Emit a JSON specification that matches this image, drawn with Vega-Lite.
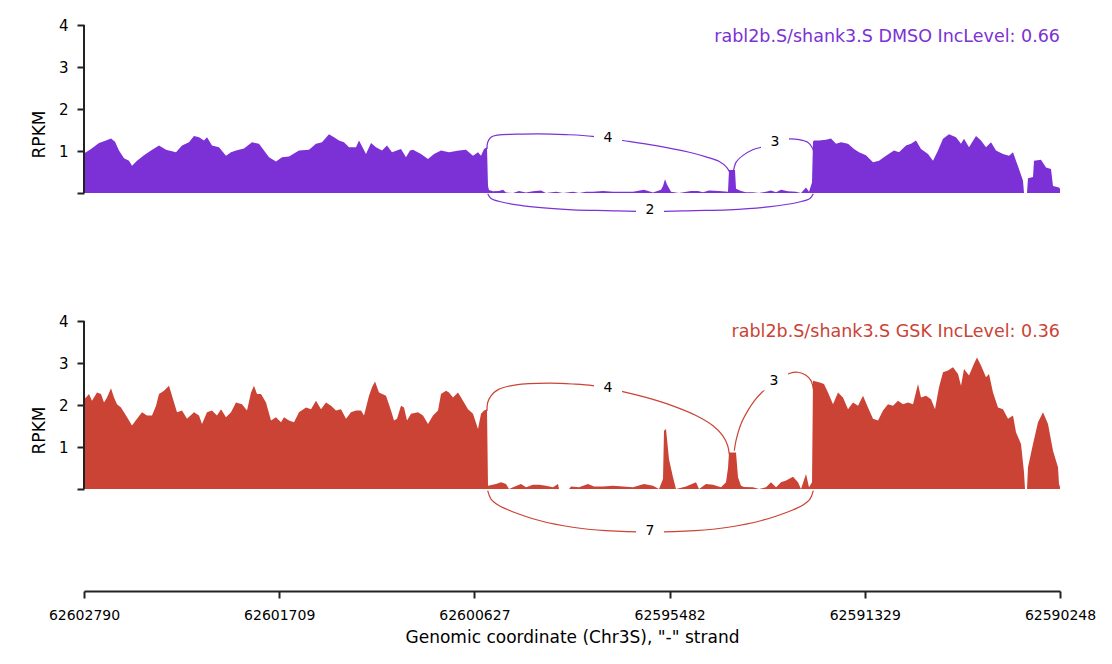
{
  "$schema": "https://vega.github.io/schema/vega-lite/v6.json",
  "autosize": {"type": "pad"},
  "padding": {"left": 30, "top": 18, "right": 5, "bottom": 5},
  "config": {
    "font": "DejaVu Sans",
    "view": {"stroke": null},
    "axis": {"grid": false}
  },
  "datasets": {
    "coverage": [
      {"track":"DMSO","pos":0,"rpkm":0.95},{"track":"DMSO","pos":2,"rpkm":0.97},{"track":"DMSO","pos":7,"rpkm":1.05},{"track":"DMSO","pos":15,"rpkm":1.19},{"track":"DMSO","pos":22,"rpkm":1.25},{"track":"DMSO","pos":27,"rpkm":1.3},{"track":"DMSO","pos":31,"rpkm":1.22},{"track":"DMSO","pos":35,"rpkm":1.01},{"track":"DMSO","pos":40,"rpkm":0.83},{"track":"DMSO","pos":45,"rpkm":0.77},{"track":"DMSO","pos":48,"rpkm":0.65},{"track":"DMSO","pos":53,"rpkm":0.77},{"track":"DMSO","pos":60,"rpkm":0.9},{"track":"DMSO","pos":67,"rpkm":1.01},{"track":"DMSO","pos":75,"rpkm":1.13},{"track":"DMSO","pos":82,"rpkm":1.03},{"track":"DMSO","pos":92,"rpkm":0.97},{"track":"DMSO","pos":98,"rpkm":1.13},{"track":"DMSO","pos":105,"rpkm":1.21},{"track":"DMSO","pos":110,"rpkm":1.36},{"track":"DMSO","pos":115,"rpkm":1.33},{"track":"DMSO","pos":120,"rpkm":1.25},{"track":"DMSO","pos":123,"rpkm":1.33},{"track":"DMSO","pos":128,"rpkm":1.13},{"track":"DMSO","pos":135,"rpkm":1.09},{"track":"DMSO","pos":142,"rpkm":0.89},{"track":"DMSO","pos":147,"rpkm":0.97},{"track":"DMSO","pos":152,"rpkm":1.01},{"track":"DMSO","pos":160,"rpkm":1.06},{"track":"DMSO","pos":168,"rpkm":1.21},{"track":"DMSO","pos":175,"rpkm":1.17},{"track":"DMSO","pos":180,"rpkm":1.01},{"track":"DMSO","pos":185,"rpkm":0.85},{"track":"DMSO","pos":192,"rpkm":0.75},{"track":"DMSO","pos":198,"rpkm":0.85},{"track":"DMSO","pos":205,"rpkm":0.87},{"track":"DMSO","pos":215,"rpkm":1.01},{"track":"DMSO","pos":225,"rpkm":1.03},{"track":"DMSO","pos":232,"rpkm":1.17},{"track":"DMSO","pos":238,"rpkm":1.21},{"track":"DMSO","pos":245,"rpkm":1.4},{"track":"DMSO","pos":250,"rpkm":1.33},{"track":"DMSO","pos":255,"rpkm":1.25},{"track":"DMSO","pos":260,"rpkm":1.21},{"track":"DMSO","pos":265,"rpkm":1.09},{"track":"DMSO","pos":272,"rpkm":1.09},{"track":"DMSO","pos":275,"rpkm":1.25},{"track":"DMSO","pos":282,"rpkm":0.93},{"track":"DMSO","pos":287,"rpkm":1.19},{"track":"DMSO","pos":292,"rpkm":1.09},{"track":"DMSO","pos":298,"rpkm":1.01},{"track":"DMSO","pos":303,"rpkm":1.13},{"track":"DMSO","pos":308,"rpkm":0.97},{"track":"DMSO","pos":317,"rpkm":1.05},{"track":"DMSO","pos":322,"rpkm":0.85},{"track":"DMSO","pos":326,"rpkm":1.01},{"track":"DMSO","pos":329,"rpkm":1.03},{"track":"DMSO","pos":337,"rpkm":0.93},{"track":"DMSO","pos":344,"rpkm":0.81},{"track":"DMSO","pos":350,"rpkm":0.93},{"track":"DMSO","pos":357,"rpkm":1.01},{"track":"DMSO","pos":365,"rpkm":0.97},{"track":"DMSO","pos":375,"rpkm":1.01},{"track":"DMSO","pos":382,"rpkm":1.03},{"track":"DMSO","pos":389,"rpkm":0.89},{"track":"DMSO","pos":394,"rpkm":0.97},{"track":"DMSO","pos":397,"rpkm":0.89},{"track":"DMSO","pos":400,"rpkm":1.05},{"track":"DMSO","pos":403,"rpkm":1.09},{"track":"DMSO","pos":404,"rpkm":0.17},{"track":"DMSO","pos":405,"rpkm":0.07},{"track":"DMSO","pos":409,"rpkm":0.04},{"track":"DMSO","pos":415,"rpkm":0.05},{"track":"DMSO","pos":419,"rpkm":0.08},{"track":"DMSO","pos":422,"rpkm":0.01},{"track":"DMSO","pos":429,"rpkm":0},{"track":"DMSO","pos":435,"rpkm":0.05},{"track":"DMSO","pos":442,"rpkm":0.01},{"track":"DMSO","pos":449,"rpkm":0.04},{"track":"DMSO","pos":457,"rpkm":0.06},{"track":"DMSO","pos":462,"rpkm":0},{"track":"DMSO","pos":472,"rpkm":0.03},{"track":"DMSO","pos":479,"rpkm":0},{"track":"DMSO","pos":489,"rpkm":0.03},{"track":"DMSO","pos":495,"rpkm":0},{"track":"DMSO","pos":502,"rpkm":0.03},{"track":"DMSO","pos":509,"rpkm":0.03},{"track":"DMSO","pos":519,"rpkm":0.05},{"track":"DMSO","pos":529,"rpkm":0.03},{"track":"DMSO","pos":535,"rpkm":0.03},{"track":"DMSO","pos":549,"rpkm":0.03},{"track":"DMSO","pos":560,"rpkm":0.08},{"track":"DMSO","pos":569,"rpkm":0.01},{"track":"DMSO","pos":577,"rpkm":0.08},{"track":"DMSO","pos":579,"rpkm":0.17},{"track":"DMSO","pos":581,"rpkm":0.33},{"track":"DMSO","pos":583,"rpkm":0.2},{"track":"DMSO","pos":587,"rpkm":0.03},{"track":"DMSO","pos":595,"rpkm":0},{"track":"DMSO","pos":607,"rpkm":0.05},{"track":"DMSO","pos":614,"rpkm":0.05},{"track":"DMSO","pos":619,"rpkm":0.02},{"track":"DMSO","pos":625,"rpkm":0.06},{"track":"DMSO","pos":635,"rpkm":0.05},{"track":"DMSO","pos":644,"rpkm":0.03},{"track":"DMSO","pos":645,"rpkm":0.55},{"track":"DMSO","pos":651,"rpkm":0.55},{"track":"DMSO","pos":652,"rpkm":0.1},{"track":"DMSO","pos":657,"rpkm":0.05},{"track":"DMSO","pos":662,"rpkm":0.02},{"track":"DMSO","pos":669,"rpkm":0.02},{"track":"DMSO","pos":675,"rpkm":0},{"track":"DMSO","pos":682,"rpkm":0.03},{"track":"DMSO","pos":687,"rpkm":0.06},{"track":"DMSO","pos":692,"rpkm":0.02},{"track":"DMSO","pos":697,"rpkm":0.08},{"track":"DMSO","pos":704,"rpkm":0.04},{"track":"DMSO","pos":712,"rpkm":0.03},{"track":"DMSO","pos":717,"rpkm":0},{"track":"DMSO","pos":722,"rpkm":0.13},{"track":"DMSO","pos":725,"rpkm":0.03},{"track":"DMSO","pos":728,"rpkm":0.25},{"track":"DMSO","pos":729,"rpkm":1.22},{"track":"DMSO","pos":730,"rpkm":1.25},{"track":"DMSO","pos":735,"rpkm":1.25},{"track":"DMSO","pos":742,"rpkm":1.27},{"track":"DMSO","pos":747,"rpkm":1.3},{"track":"DMSO","pos":752,"rpkm":1.17},{"track":"DMSO","pos":757,"rpkm":1.21},{"track":"DMSO","pos":764,"rpkm":1.17},{"track":"DMSO","pos":770,"rpkm":1.05},{"track":"DMSO","pos":775,"rpkm":0.97},{"track":"DMSO","pos":782,"rpkm":0.9},{"track":"DMSO","pos":789,"rpkm":0.73},{"track":"DMSO","pos":795,"rpkm":0.77},{"track":"DMSO","pos":802,"rpkm":0.89},{"track":"DMSO","pos":810,"rpkm":1.01},{"track":"DMSO","pos":815,"rpkm":0.97},{"track":"DMSO","pos":822,"rpkm":1.13},{"track":"DMSO","pos":827,"rpkm":1.17},{"track":"DMSO","pos":832,"rpkm":1.25},{"track":"DMSO","pos":837,"rpkm":1.05},{"track":"DMSO","pos":844,"rpkm":0.93},{"track":"DMSO","pos":849,"rpkm":0.77},{"track":"DMSO","pos":854,"rpkm":1.01},{"track":"DMSO","pos":859,"rpkm":1.29},{"track":"DMSO","pos":865,"rpkm":1.4},{"track":"DMSO","pos":872,"rpkm":1.33},{"track":"DMSO","pos":877,"rpkm":1.17},{"track":"DMSO","pos":880,"rpkm":1.29},{"track":"DMSO","pos":885,"rpkm":1.09},{"track":"DMSO","pos":892,"rpkm":1.36},{"track":"DMSO","pos":897,"rpkm":1.25},{"track":"DMSO","pos":902,"rpkm":1.09},{"track":"DMSO","pos":907,"rpkm":1.21},{"track":"DMSO","pos":912,"rpkm":1.01},{"track":"DMSO","pos":919,"rpkm":0.93},{"track":"DMSO","pos":925,"rpkm":0.89},{"track":"DMSO","pos":929,"rpkm":0.97},{"track":"DMSO","pos":932,"rpkm":0.77},{"track":"DMSO","pos":935,"rpkm":0.57},{"track":"DMSO","pos":939,"rpkm":0.29},{"track":"DMSO","pos":940,"rpkm":0},{"track":"DMSO","pos":943,"rpkm":0},{"track":"DMSO","pos":944,"rpkm":0.35},{"track":"DMSO","pos":949,"rpkm":0.38},{"track":"DMSO","pos":950,"rpkm":0.77},{"track":"DMSO","pos":957,"rpkm":0.79},{"track":"DMSO","pos":962,"rpkm":0.61},{"track":"DMSO","pos":967,"rpkm":0.57},{"track":"DMSO","pos":969,"rpkm":0.17},{"track":"DMSO","pos":975,"rpkm":0.13},{"track":"DMSO","pos":976,"rpkm":0.1},
      {"track":"GSK","pos":0,"rpkm":2.15},{"track":"GSK","pos":2,"rpkm":2.18},{"track":"GSK","pos":5,"rpkm":2.26},{"track":"GSK","pos":8,"rpkm":2.1},{"track":"GSK","pos":13,"rpkm":2.3},{"track":"GSK","pos":17,"rpkm":2.26},{"track":"GSK","pos":20,"rpkm":2.06},{"track":"GSK","pos":23,"rpkm":2.18},{"track":"GSK","pos":27,"rpkm":2.4},{"track":"GSK","pos":30,"rpkm":2.18},{"track":"GSK","pos":33,"rpkm":2.02},{"track":"GSK","pos":37,"rpkm":1.94},{"track":"GSK","pos":42,"rpkm":1.75},{"track":"GSK","pos":48,"rpkm":1.51},{"track":"GSK","pos":53,"rpkm":1.67},{"track":"GSK","pos":58,"rpkm":1.83},{"track":"GSK","pos":63,"rpkm":1.75},{"track":"GSK","pos":68,"rpkm":1.75},{"track":"GSK","pos":72,"rpkm":1.98},{"track":"GSK","pos":75,"rpkm":2.26},{"track":"GSK","pos":80,"rpkm":2.34},{"track":"GSK","pos":85,"rpkm":2.46},{"track":"GSK","pos":88,"rpkm":2.22},{"track":"GSK","pos":93,"rpkm":1.83},{"track":"GSK","pos":98,"rpkm":1.87},{"track":"GSK","pos":103,"rpkm":1.67},{"track":"GSK","pos":110,"rpkm":1.83},{"track":"GSK","pos":115,"rpkm":1.75},{"track":"GSK","pos":118,"rpkm":1.55},{"track":"GSK","pos":123,"rpkm":1.83},{"track":"GSK","pos":128,"rpkm":1.87},{"track":"GSK","pos":133,"rpkm":1.75},{"track":"GSK","pos":137,"rpkm":1.9},{"track":"GSK","pos":142,"rpkm":1.71},{"track":"GSK","pos":147,"rpkm":1.83},{"track":"GSK","pos":152,"rpkm":2.06},{"track":"GSK","pos":158,"rpkm":2.02},{"track":"GSK","pos":163,"rpkm":1.87},{"track":"GSK","pos":167,"rpkm":2.3},{"track":"GSK","pos":170,"rpkm":2.46},{"track":"GSK","pos":173,"rpkm":2.26},{"track":"GSK","pos":177,"rpkm":2.26},{"track":"GSK","pos":182,"rpkm":2.06},{"track":"GSK","pos":187,"rpkm":1.63},{"track":"GSK","pos":192,"rpkm":1.71},{"track":"GSK","pos":197,"rpkm":1.59},{"track":"GSK","pos":200,"rpkm":1.71},{"track":"GSK","pos":205,"rpkm":1.63},{"track":"GSK","pos":210,"rpkm":1.59},{"track":"GSK","pos":215,"rpkm":1.83},{"track":"GSK","pos":222,"rpkm":1.94},{"track":"GSK","pos":227,"rpkm":1.9},{"track":"GSK","pos":232,"rpkm":2.1},{"track":"GSK","pos":237,"rpkm":1.9},{"track":"GSK","pos":242,"rpkm":2.06},{"track":"GSK","pos":247,"rpkm":1.98},{"track":"GSK","pos":252,"rpkm":1.87},{"track":"GSK","pos":257,"rpkm":1.9},{"track":"GSK","pos":262,"rpkm":1.67},{"track":"GSK","pos":267,"rpkm":1.83},{"track":"GSK","pos":272,"rpkm":1.87},{"track":"GSK","pos":277,"rpkm":1.87},{"track":"GSK","pos":280,"rpkm":1.75},{"track":"GSK","pos":285,"rpkm":2.22},{"track":"GSK","pos":288,"rpkm":2.42},{"track":"GSK","pos":291,"rpkm":2.56},{"track":"GSK","pos":295,"rpkm":2.3},{"track":"GSK","pos":302,"rpkm":2.22},{"track":"GSK","pos":307,"rpkm":1.87},{"track":"GSK","pos":310,"rpkm":1.63},{"track":"GSK","pos":313,"rpkm":1.67},{"track":"GSK","pos":317,"rpkm":1.98},{"track":"GSK","pos":320,"rpkm":1.94},{"track":"GSK","pos":323,"rpkm":1.63},{"track":"GSK","pos":327,"rpkm":1.79},{"track":"GSK","pos":334,"rpkm":1.83},{"track":"GSK","pos":339,"rpkm":1.75},{"track":"GSK","pos":344,"rpkm":1.55},{"track":"GSK","pos":349,"rpkm":1.75},{"track":"GSK","pos":354,"rpkm":1.87},{"track":"GSK","pos":357,"rpkm":2.26},{"track":"GSK","pos":362,"rpkm":2.34},{"track":"GSK","pos":365,"rpkm":2.3},{"track":"GSK","pos":369,"rpkm":2.18},{"track":"GSK","pos":374,"rpkm":2.3},{"track":"GSK","pos":379,"rpkm":2.1},{"track":"GSK","pos":384,"rpkm":1.9},{"track":"GSK","pos":389,"rpkm":1.79},{"track":"GSK","pos":394,"rpkm":1.43},{"track":"GSK","pos":397,"rpkm":1.79},{"track":"GSK","pos":400,"rpkm":1.87},{"track":"GSK","pos":403,"rpkm":1.9},{"track":"GSK","pos":404,"rpkm":0.08},{"track":"GSK","pos":412,"rpkm":0.12},{"track":"GSK","pos":417,"rpkm":0.16},{"track":"GSK","pos":422,"rpkm":0.12},{"track":"GSK","pos":425,"rpkm":0},{"track":"GSK","pos":429,"rpkm":0.04},{"track":"GSK","pos":437,"rpkm":0.12},{"track":"GSK","pos":442,"rpkm":0.04},{"track":"GSK","pos":449,"rpkm":0.1},{"track":"GSK","pos":455,"rpkm":0.1},{"track":"GSK","pos":462,"rpkm":0.08},{"track":"GSK","pos":469,"rpkm":0.04},{"track":"GSK","pos":474,"rpkm":0.12},{"track":"GSK","pos":475,"rpkm":0},{"track":"GSK","pos":485,"rpkm":0},{"track":"GSK","pos":487,"rpkm":0.06},{"track":"GSK","pos":495,"rpkm":0.04},{"track":"GSK","pos":504,"rpkm":0.12},{"track":"GSK","pos":510,"rpkm":0.06},{"track":"GSK","pos":519,"rpkm":0.06},{"track":"GSK","pos":529,"rpkm":0.08},{"track":"GSK","pos":539,"rpkm":0.06},{"track":"GSK","pos":549,"rpkm":0.04},{"track":"GSK","pos":560,"rpkm":0.12},{"track":"GSK","pos":569,"rpkm":0.08},{"track":"GSK","pos":575,"rpkm":0},{"track":"GSK","pos":579,"rpkm":0.24},{"track":"GSK","pos":580,"rpkm":1.39},{"track":"GSK","pos":582,"rpkm":1.43},{"track":"GSK","pos":585,"rpkm":0.71},{"track":"GSK","pos":589,"rpkm":0.28},{"track":"GSK","pos":592,"rpkm":0},{"track":"GSK","pos":602,"rpkm":0.06},{"track":"GSK","pos":612,"rpkm":0.16},{"track":"GSK","pos":615,"rpkm":0},{"track":"GSK","pos":622,"rpkm":0.12},{"track":"GSK","pos":629,"rpkm":0.1},{"track":"GSK","pos":637,"rpkm":0.04},{"track":"GSK","pos":642,"rpkm":0.16},{"track":"GSK","pos":644,"rpkm":0.5},{"track":"GSK","pos":645,"rpkm":0.87},{"track":"GSK","pos":652,"rpkm":0.87},{"track":"GSK","pos":654,"rpkm":0.28},{"track":"GSK","pos":657,"rpkm":0.08},{"track":"GSK","pos":660,"rpkm":0.05},{"track":"GSK","pos":669,"rpkm":0.04},{"track":"GSK","pos":675,"rpkm":0},{"track":"GSK","pos":682,"rpkm":0.04},{"track":"GSK","pos":687,"rpkm":0.16},{"track":"GSK","pos":692,"rpkm":0.04},{"track":"GSK","pos":697,"rpkm":0.16},{"track":"GSK","pos":702,"rpkm":0.2},{"track":"GSK","pos":709,"rpkm":0.29},{"track":"GSK","pos":714,"rpkm":0.16},{"track":"GSK","pos":717,"rpkm":0},{"track":"GSK","pos":722,"rpkm":0.36},{"track":"GSK","pos":725,"rpkm":0.04},{"track":"GSK","pos":728,"rpkm":0.16},{"track":"GSK","pos":729,"rpkm":2.58},{"track":"GSK","pos":735,"rpkm":2.54},{"track":"GSK","pos":740,"rpkm":2.5},{"track":"GSK","pos":744,"rpkm":2.3},{"track":"GSK","pos":749,"rpkm":2.02},{"track":"GSK","pos":754,"rpkm":2.3},{"track":"GSK","pos":759,"rpkm":2.18},{"track":"GSK","pos":764,"rpkm":1.9},{"track":"GSK","pos":769,"rpkm":2.06},{"track":"GSK","pos":774,"rpkm":1.98},{"track":"GSK","pos":779,"rpkm":2.22},{"track":"GSK","pos":784,"rpkm":1.94},{"track":"GSK","pos":789,"rpkm":1.67},{"track":"GSK","pos":794,"rpkm":1.63},{"track":"GSK","pos":799,"rpkm":1.87},{"track":"GSK","pos":804,"rpkm":2.02},{"track":"GSK","pos":809,"rpkm":1.98},{"track":"GSK","pos":814,"rpkm":2.1},{"track":"GSK","pos":819,"rpkm":2.02},{"track":"GSK","pos":824,"rpkm":2.06},{"track":"GSK","pos":829,"rpkm":2.02},{"track":"GSK","pos":834,"rpkm":2.5},{"track":"GSK","pos":837,"rpkm":2.18},{"track":"GSK","pos":842,"rpkm":2.22},{"track":"GSK","pos":847,"rpkm":2.14},{"track":"GSK","pos":851,"rpkm":1.9},{"track":"GSK","pos":855,"rpkm":2.42},{"track":"GSK","pos":859,"rpkm":2.78},{"track":"GSK","pos":864,"rpkm":2.82},{"track":"GSK","pos":869,"rpkm":2.9},{"track":"GSK","pos":874,"rpkm":2.74},{"track":"GSK","pos":877,"rpkm":2.46},{"track":"GSK","pos":880,"rpkm":2.86},{"track":"GSK","pos":885,"rpkm":2.7},{"track":"GSK","pos":890,"rpkm":2.98},{"track":"GSK","pos":893,"rpkm":3.13},{"track":"GSK","pos":897,"rpkm":2.94},{"track":"GSK","pos":902,"rpkm":2.66},{"track":"GSK","pos":905,"rpkm":2.74},{"track":"GSK","pos":909,"rpkm":2.3},{"track":"GSK","pos":914,"rpkm":1.94},{"track":"GSK","pos":919,"rpkm":1.9},{"track":"GSK","pos":924,"rpkm":1.67},{"track":"GSK","pos":929,"rpkm":1.75},{"track":"GSK","pos":932,"rpkm":1.35},{"track":"GSK","pos":937,"rpkm":1.07},{"track":"GSK","pos":940,"rpkm":0.4},{"track":"GSK","pos":941,"rpkm":0},{"track":"GSK","pos":943,"rpkm":0},{"track":"GSK","pos":944,"rpkm":0.52},{"track":"GSK","pos":949,"rpkm":1.07},{"track":"GSK","pos":954,"rpkm":1.59},{"track":"GSK","pos":959,"rpkm":1.83},{"track":"GSK","pos":964,"rpkm":1.55},{"track":"GSK","pos":969,"rpkm":0.91},{"track":"GSK","pos":974,"rpkm":0.52},{"track":"GSK","pos":975,"rpkm":0.12},{"track":"GSK","pos":976,"rpkm":0.05}
    ],
    "arcs": [
      {"track":"DMSO","junction":"a","seq":1,"pos":403,"rpkm":1.05},{"track":"DMSO","junction":"a","seq":2,"pos":403.7,"rpkm":1.21},{"track":"DMSO","junction":"a","seq":3,"pos":407,"rpkm":1.33},{"track":"DMSO","junction":"a","seq":4,"pos":413.7,"rpkm":1.38},{"track":"DMSO","junction":"a","seq":5,"pos":432,"rpkm":1.4},{"track":"DMSO","junction":"a","seq":6,"pos":455.3,"rpkm":1.41},{"track":"DMSO","junction":"a","seq":7,"pos":482,"rpkm":1.39},{"track":"DMSO","junction":"a","seq":8,"pos":508.7,"rpkm":1.35},{"track":"DMSO","junction":"a","seq":9,"pos":538.7,"rpkm":1.25},{"track":"DMSO","junction":"a","seq":10,"pos":572,"rpkm":1.13},{"track":"DMSO","junction":"a","seq":11,"pos":605.3,"rpkm":0.97},{"track":"DMSO","junction":"a","seq":12,"pos":622,"rpkm":0.86},{"track":"DMSO","junction":"a","seq":13,"pos":635.3,"rpkm":0.75},{"track":"DMSO","junction":"a","seq":14,"pos":642.7,"rpkm":0.61},{"track":"DMSO","junction":"a","seq":15,"pos":645.3,"rpkm":0.51},
      {"track":"DMSO","junction":"b","seq":1,"pos":649.3,"rpkm":0.49},{"track":"DMSO","junction":"b","seq":2,"pos":652,"rpkm":0.73},{"track":"DMSO","junction":"b","seq":3,"pos":658.7,"rpkm":0.89},{"track":"DMSO","junction":"b","seq":4,"pos":668.7,"rpkm":1.03},{"track":"DMSO","junction":"b","seq":5,"pos":677,"rpkm":1.09},{"track":"DMSO","junction":"b","seq":6,"pos":687,"rpkm":1.19},{"track":"DMSO","junction":"b","seq":7,"pos":697,"rpkm":1.26},{"track":"DMSO","junction":"b","seq":8,"pos":705.3,"rpkm":1.29},{"track":"DMSO","junction":"b","seq":9,"pos":715.3,"rpkm":1.27},{"track":"DMSO","junction":"b","seq":10,"pos":723.7,"rpkm":1.21},{"track":"DMSO","junction":"b","seq":11,"pos":728,"rpkm":1.09},{"track":"DMSO","junction":"b","seq":12,"pos":730,"rpkm":0.97},
      {"track":"DMSO","junction":"c","seq":1,"pos":403.7,"rpkm":-0.02},{"track":"DMSO","junction":"c","seq":2,"pos":407,"rpkm":-0.13},{"track":"DMSO","junction":"c","seq":3,"pos":418.7,"rpkm":-0.22},{"track":"DMSO","junction":"c","seq":4,"pos":448.7,"rpkm":-0.33},{"track":"DMSO","junction":"c","seq":5,"pos":488.7,"rpkm":-0.4},{"track":"DMSO","junction":"c","seq":6,"pos":522,"rpkm":-0.42},{"track":"DMSO","junction":"c","seq":7,"pos":566.5,"rpkm":-0.44},{"track":"DMSO","junction":"c","seq":8,"pos":611,"rpkm":-0.42},{"track":"DMSO","junction":"c","seq":9,"pos":644.3,"rpkm":-0.4},{"track":"DMSO","junction":"c","seq":10,"pos":684.3,"rpkm":-0.33},{"track":"DMSO","junction":"c","seq":11,"pos":714.3,"rpkm":-0.22},{"track":"DMSO","junction":"c","seq":12,"pos":726,"rpkm":-0.13},{"track":"DMSO","junction":"c","seq":13,"pos":729.3,"rpkm":-0.02},
      {"track":"GSK","junction":"a","seq":1,"pos":403,"rpkm":1.86},{"track":"GSK","junction":"a","seq":2,"pos":403.7,"rpkm":2.06},{"track":"GSK","junction":"a","seq":3,"pos":407,"rpkm":2.22},{"track":"GSK","junction":"a","seq":4,"pos":413.7,"rpkm":2.36},{"track":"GSK","junction":"a","seq":5,"pos":432,"rpkm":2.48},{"track":"GSK","junction":"a","seq":6,"pos":465.3,"rpkm":2.52},{"track":"GSK","junction":"a","seq":7,"pos":488.7,"rpkm":2.5},{"track":"GSK","junction":"a","seq":8,"pos":508.7,"rpkm":2.46},{"track":"GSK","junction":"a","seq":9,"pos":538.7,"rpkm":2.32},{"track":"GSK","junction":"a","seq":10,"pos":562,"rpkm":2.18},{"track":"GSK","junction":"a","seq":11,"pos":588.7,"rpkm":1.98},{"track":"GSK","junction":"a","seq":12,"pos":612,"rpkm":1.75},{"track":"GSK","junction":"a","seq":13,"pos":628.7,"rpkm":1.51},{"track":"GSK","junction":"a","seq":14,"pos":638.7,"rpkm":1.27},{"track":"GSK","junction":"a","seq":15,"pos":643.7,"rpkm":1.03},{"track":"GSK","junction":"a","seq":16,"pos":645.3,"rpkm":0.83},
      {"track":"GSK","junction":"b","seq":1,"pos":650.3,"rpkm":0.91},{"track":"GSK","junction":"b","seq":2,"pos":652,"rpkm":1.15},{"track":"GSK","junction":"b","seq":3,"pos":657,"rpkm":1.55},{"track":"GSK","junction":"b","seq":4,"pos":663.7,"rpkm":1.86},{"track":"GSK","junction":"b","seq":5,"pos":670.3,"rpkm":2.1},{"track":"GSK","junction":"b","seq":6,"pos":677,"rpkm":2.28},{"track":"GSK","junction":"b","seq":7,"pos":687,"rpkm":2.48},{"track":"GSK","junction":"b","seq":8,"pos":697,"rpkm":2.64},{"track":"GSK","junction":"b","seq":9,"pos":705.3,"rpkm":2.75},{"track":"GSK","junction":"b","seq":10,"pos":713.7,"rpkm":2.78},{"track":"GSK","junction":"b","seq":11,"pos":722,"rpkm":2.71},{"track":"GSK","junction":"b","seq":12,"pos":727,"rpkm":2.58},{"track":"GSK","junction":"b","seq":13,"pos":729.7,"rpkm":2.34},{"track":"GSK","junction":"b","seq":14,"pos":730.3,"rpkm":2.18},
      {"track":"GSK","junction":"c","seq":1,"pos":403.7,"rpkm":-0.04},{"track":"GSK","junction":"c","seq":2,"pos":407,"rpkm":-0.24},{"track":"GSK","junction":"c","seq":3,"pos":415.3,"rpkm":-0.4},{"track":"GSK","junction":"c","seq":4,"pos":428.7,"rpkm":-0.54},{"track":"GSK","junction":"c","seq":5,"pos":455.3,"rpkm":-0.75},{"track":"GSK","junction":"c","seq":6,"pos":488.7,"rpkm":-0.91},{"track":"GSK","junction":"c","seq":7,"pos":522,"rpkm":-0.99},{"track":"GSK","junction":"c","seq":8,"pos":566.5,"rpkm":-1.02},{"track":"GSK","junction":"c","seq":9,"pos":611,"rpkm":-0.99},{"track":"GSK","junction":"c","seq":10,"pos":644.3,"rpkm":-0.91},{"track":"GSK","junction":"c","seq":11,"pos":677.7,"rpkm":-0.75},{"track":"GSK","junction":"c","seq":12,"pos":704.3,"rpkm":-0.54},{"track":"GSK","junction":"c","seq":13,"pos":717.7,"rpkm":-0.4},{"track":"GSK","junction":"c","seq":14,"pos":726,"rpkm":-0.24},{"track":"GSK","junction":"c","seq":15,"pos":729.3,"rpkm":-0.04}
    ],
    "junction_reads": [
      {"track":"DMSO","reads":"4","pos":524,"rpkm":1.31},
      {"track":"DMSO","reads":"3","pos":691,"rpkm":1.22},
      {"track":"DMSO","reads":"2","pos":566,"rpkm":-0.4},
      {"track":"GSK","reads":"4","pos":524,"rpkm":2.4},
      {"track":"GSK","reads":"3","pos":690,"rpkm":2.58},
      {"track":"GSK","reads":"7","pos":566,"rpkm":-0.99}
    ],
    "samples": [
      {"track":"DMSO","label":"rabl2b.S/shank3.S DMSO IncLevel: 0.66"},
      {"track":"GSK","label":"rabl2b.S/shank3.S GSK IncLevel: 0.36"}
    ]
  },
  "spacing": 78,
  "bounds": "flush",
  "vconcat": [
    {
      "width": 976,
      "height": 218,
      "layer": [
        {"data": {"name": "coverage"}, "transform": [{"filter": "datum.track === 'DMSO'"}],
          "mark": {"type": "area", "color": "#7b31d5", "opacity": 1},
          "encoding": {
            "x": {"field": "pos", "type": "quantitative", "scale": {"domain": [0, 976], "nice": false, "zero": false}, "axis": null},
            "y": {"field": "rpkm", "type": "quantitative", "title": "RPKM", "scale": {"domain": [-1.19, 4], "nice": false, "zero": false},
              "axis": {"values": [0, 1, 2, 3, 4], "domain": false, "tickSize": 7, "tickWidth": 2, "tickColor": "#222222", "labelExpr": "datum.value === 0 ? '' : datum.label", "labelFontSize": 15, "labelColor": "#000000", "labelPadding": 9, "titleFontSize": 17, "titleFontWeight": "normal", "titleColor": "#000000", "titlePadding": 10}},
            "y2": {"datum": 0}
          }},
        {"data": {"values": [{}]}, "mark": {"type": "rule", "color": "#222222", "strokeWidth": 2},
          "encoding": {"x": {"datum": 0, "type": "quantitative", "axis": null}, "y": {"datum": 0, "type": "quantitative", "title": "RPKM"}, "y2": {"datum": 4}}},
        {"data": {"name": "arcs"}, "transform": [{"filter": "datum.track === 'DMSO'"}],
          "mark": {"type": "line", "color": "#7b31d5", "strokeWidth": 1.2, "interpolate": "catmull-rom"},
          "encoding": {"x": {"field": "pos", "type": "quantitative", "axis": null}, "y": {"field": "rpkm", "type": "quantitative", "title": "RPKM"}, "detail": {"field": "junction"}, "order": {"field": "seq"}}},
        {"data": {"name": "junction_reads"}, "transform": [{"filter": "datum.track === 'DMSO'"}],
          "mark": {"type": "point", "shape": "M-1,-0.7L1,-0.7L1,0.7L-1,0.7Z", "filled": true, "color": "#ffffff", "opacity": 1, "size": 784, "strokeWidth": 0},
          "encoding": {"x": {"field": "pos", "type": "quantitative", "axis": null}, "y": {"field": "rpkm", "type": "quantitative", "title": "RPKM"}}},
        {"data": {"name": "junction_reads"}, "transform": [{"filter": "datum.track === 'DMSO'"}],
          "mark": {"type": "text", "fontSize": 14, "color": "#000000", "baseline": "middle", "align": "center"},
          "encoding": {"x": {"field": "pos", "type": "quantitative", "axis": null}, "y": {"field": "rpkm", "type": "quantitative", "title": "RPKM"}, "text": {"field": "reads"}}},
        {"data": {"name": "samples"}, "transform": [{"filter": "datum.track === 'DMSO'"}],
          "mark": {"type": "text", "fontSize": 17.5, "color": "#7b31d5", "align": "right", "baseline": "middle"},
          "encoding": {"x": {"datum": 976, "type": "quantitative", "axis": null}, "y": {"datum": 3.72, "type": "quantitative", "title": "RPKM"}, "text": {"field": "label"}}}
      ]
    },
    {
      "width": 976,
      "height": 218,
      "layer": [
        {"data": {"name": "coverage"}, "transform": [{"filter": "datum.track === 'GSK'"}],
          "mark": {"type": "area", "color": "#cb4335", "opacity": 1},
          "encoding": {
            "x": {"field": "pos", "type": "quantitative", "title": "Genomic coordinate (Chr3S), \"-\" strand", "scale": {"domain": [0, 976], "nice": false, "zero": false},
              "axis": {"values": [0, 195.2, 390.4, 585.6, 780.8, 976], "labelExpr": "['62602790','62601709','62600627','62595482','62591329','62590248'][round(datum.value / 195.2)]", "offset": 52, "domainColor": "#222222", "domainWidth": 2, "tickColor": "#222222", "tickWidth": 2, "tickSize": 7, "labelFontSize": 14, "labelColor": "#000000", "labelPadding": 10, "labelFlush": false, "titleFontSize": 17, "titleFontWeight": "normal", "titleColor": "#000000", "titlePadding": 7}},
            "y": {"field": "rpkm", "type": "quantitative", "title": "RPKM", "scale": {"domain": [-1.19, 4], "nice": false, "zero": false},
              "axis": {"values": [0, 1, 2, 3, 4], "domain": false, "tickSize": 7, "tickWidth": 2, "tickColor": "#222222", "labelExpr": "datum.value === 0 ? '' : datum.label", "labelFontSize": 15, "labelColor": "#000000", "labelPadding": 9, "titleFontSize": 17, "titleFontWeight": "normal", "titleColor": "#000000", "titlePadding": 10}},
            "y2": {"datum": 0}
          }},
        {"data": {"values": [{}]}, "mark": {"type": "rule", "color": "#222222", "strokeWidth": 2},
          "encoding": {"x": {"datum": 0, "type": "quantitative", "title": "Genomic coordinate (Chr3S), \"-\" strand"}, "y": {"datum": 0, "type": "quantitative", "title": "RPKM"}, "y2": {"datum": 4}}},
        {"data": {"name": "arcs"}, "transform": [{"filter": "datum.track === 'GSK'"}],
          "mark": {"type": "line", "color": "#cb4335", "strokeWidth": 1.2, "interpolate": "catmull-rom"},
          "encoding": {"x": {"field": "pos", "type": "quantitative", "title": "Genomic coordinate (Chr3S), \"-\" strand"}, "y": {"field": "rpkm", "type": "quantitative", "title": "RPKM"}, "detail": {"field": "junction"}, "order": {"field": "seq"}}},
        {"data": {"name": "junction_reads"}, "transform": [{"filter": "datum.track === 'GSK'"}],
          "mark": {"type": "point", "shape": "M-1,-0.7L1,-0.7L1,0.7L-1,0.7Z", "filled": true, "color": "#ffffff", "opacity": 1, "size": 784, "strokeWidth": 0},
          "encoding": {"x": {"field": "pos", "type": "quantitative", "title": "Genomic coordinate (Chr3S), \"-\" strand"}, "y": {"field": "rpkm", "type": "quantitative", "title": "RPKM"}}},
        {"data": {"name": "junction_reads"}, "transform": [{"filter": "datum.track === 'GSK'"}],
          "mark": {"type": "text", "fontSize": 14, "color": "#000000", "baseline": "middle", "align": "center"},
          "encoding": {"x": {"field": "pos", "type": "quantitative", "title": "Genomic coordinate (Chr3S), \"-\" strand"}, "y": {"field": "rpkm", "type": "quantitative", "title": "RPKM"}, "text": {"field": "reads"}}},
        {"data": {"name": "samples"}, "transform": [{"filter": "datum.track === 'GSK'"}],
          "mark": {"type": "text", "fontSize": 17.5, "color": "#cb4335", "align": "right", "baseline": "middle"},
          "encoding": {"x": {"datum": 976, "type": "quantitative", "title": "Genomic coordinate (Chr3S), \"-\" strand"}, "y": {"datum": 3.74, "type": "quantitative", "title": "RPKM"}, "text": {"field": "label"}}}
      ]
    }
  ]
}
